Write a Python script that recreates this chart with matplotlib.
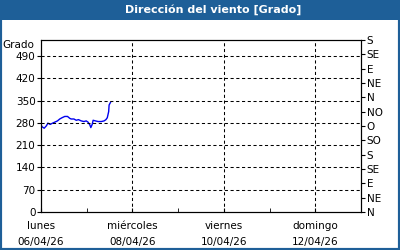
import numpy as np
import matplotlib.pyplot as plt
from matplotlib.patches import Rectangle

# wind direction, hourly-ish samples from Monday 00:00 (x in days)
days = [0.0, 0.02, 0.07, 0.12, 0.15, 0.2, 0.24, 0.3, 0.36, 0.41, 0.46, 0.52,
        0.58, 0.63, 0.66, 0.72, 0.77, 0.82, 0.88, 0.94, 0.99, 1.03, 1.07,
        1.09, 1.12, 1.14, 1.19, 1.25, 1.32, 1.38, 1.42, 1.45, 1.48, 1.49, 1.52]
direction = [275, 268, 263, 271, 279, 275, 278, 282, 286, 292, 296, 300,
             300, 294, 292, 292, 288, 290, 286, 284, 286, 282, 273,
             265, 275, 288, 286, 284, 284, 286, 290, 296, 315, 336, 344]

x_ticks = [0, 2, 4, 6]
x_labels = ["lunes\n06/04/26", "miércoles\n08/04/26", "viernes\n10/04/26", "domingo\n12/04/26"]
y_ticks = [0, 70, 140, 210, 280, 350, 420, 490]
compass_ticks = list(range(0, 541, 45))
compass_labels = ["N", "NE", "E", "SE", "S", "SO", "O", "NO", "N", "NE", "E", "SE", "S"]

blue_frame = "#1e5f98"
plt.rcParams['font.family'] = ['DejaVu Sans']

fig = plt.figure(figsize=(4, 2.5), dpi=100)
fig.patch.set_facecolor("white")

# frame and title bar
fig.add_artist(Rectangle((0, 0), 1, 1, transform=fig.transFigure, fill=False,
                         edgecolor=blue_frame, linewidth=3))
fig.add_artist(Rectangle((0, 1 - 20 / 250), 1, 20 / 250, transform=fig.transFigure,
                         facecolor=blue_frame, edgecolor="none"))
fig.text(213 / 400, 1 - 10 / 250, "Dirección del viento [Grado]", color="white",
         fontsize=8, fontweight="bold", ha="center", va="center")

ax = fig.add_axes([41 / 400, 1 - 212 / 250, 320 / 400, 172 / 250])
ax.plot(days, direction, color="#0000ee", lw=1)

ax.set_xlim(0, 7)
ax.set_ylim(0, 540)
ax.set_xticks(x_ticks)
ax.set_xticklabels(x_labels, fontsize=7.5, linespacing=1.75)
ax.set_xticks([1, 3, 5], minor=True)
ax.set_yticks(y_ticks)
ax.set_yticklabels([str(v) for v in y_ticks], fontsize=7.5)
ax.tick_params(axis="x", which="both", direction="in", length=3, pad=6.5)
ax.tick_params(axis="y", direction="out", length=3, pad=1)

for v in y_ticks[1:]:
    ax.axhline(v, color="black", lw=0.75, ls=(0, (3, 2.5)))
for d in x_ticks[1:]:
    ax.axvline(d, color="black", lw=0.75, ls=(0, (3, 2.5)))

for s in ax.spines.values():
    s.set_linewidth(0.8)

ax.text(-0.02, 1.0, "Grado", transform=ax.transAxes, ha="right", va="top", fontsize=7.5)

ax2 = ax.twinx()
ax2.set_ylim(0, 540)
ax2.set_yticks(compass_ticks)
ax2.set_yticklabels(compass_labels, fontsize=7.5)
ax2.tick_params(axis="y", direction="out", length=3, pad=1)
for s in ax2.spines.values():
    s.set_linewidth(0.8)

fig.savefig("out.png", dpi=100)
